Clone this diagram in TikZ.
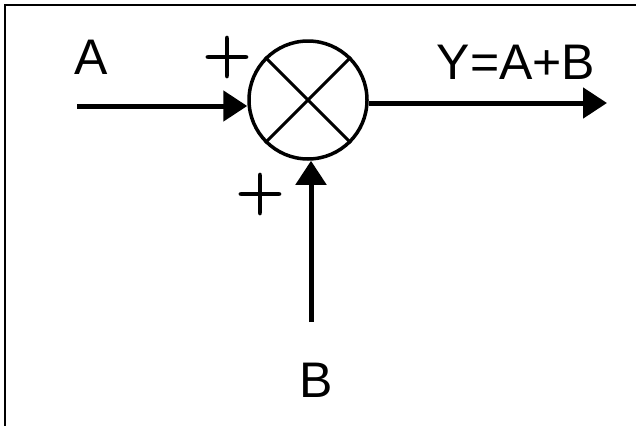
\documentclass[tikz,border=0pt]{standalone}
\usepackage{fontspec}
\newfontfamily\lblfont{Liberation Sans}
\newfontfamily\sgnfont[FakeBold=2]{Latin Modern Roman}
\usetikzlibrary{arrows.meta}
\tikzset{
  sig/.style={-{Triangle[length=24pt, width=30pt]}, line width=5pt},
  sumj/.style={circle, draw, line width=3.5pt, minimum size=118pt, inner sep=0pt},
  crs/.style={line width=3pt},
  lbl/.style={font=\fontsize{50}{50}\lblfont, inner sep=0pt},
  sgn/.style={font=\fontsize{66}{66}\sgnfont, inner sep=0pt},
  rim/.style={line width=2.5pt},
}
\begin{document}
\begin{tikzpicture}[x=1pt, y=-1pt]
  \useasboundingbox (0,0) rectangle (636,426);
  \draw[rim] (636,5) -- (5,5) -- (5,426);
  % summing junction
  \node[sumj] (sum) at (308,100) {};
  \draw[crs] (sum.north east) -- (sum.south west);
  \draw[crs] (sum.north west) -- (sum.south east);
  % signals
  \coordinate (ina) at (77,106);
  \coordinate (inb) at (311,322);
  \coordinate (outy) at (607,103);
  \draw[sig] (ina) -- (ina -| sum.west);
  \draw[sig] (inb) -- (sum.south -| inb);
  \draw[sig] (sum.east |- outy) -- (outy);
  \node[lbl] (la) at (91,57) {A};
  \node[lbl] (lb) at (316,380) {B};
  \node[lbl] (ly) at (516,62) {Y=A+B};
  \node[sgn] (pa) at (227,57) {+};
  \node[sgn] (pb) at (260,194) {+};
\end{tikzpicture}
\end{document}
